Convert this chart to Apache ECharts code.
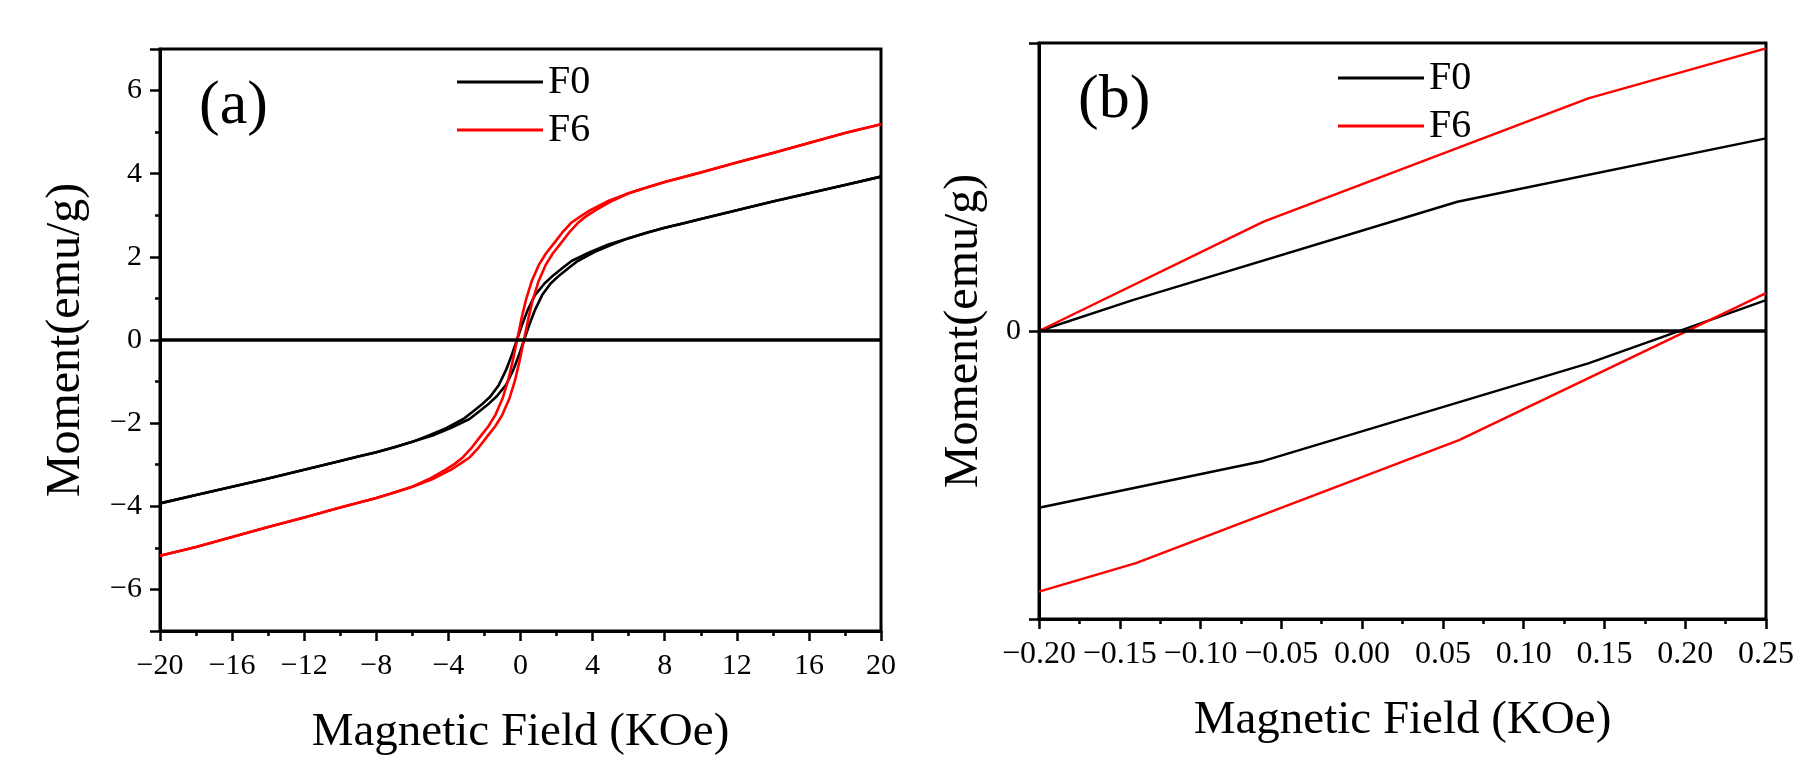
<!DOCTYPE html>
<html>
<head>
<meta charset="utf-8">
<script src="https://cdn.jsdelivr.net/npm/echarts@6/dist/echarts.min.js"></script>
<style>
  html, body { margin: 0; padding: 0; background: #fff; }
  #container { width: 1803px; height: 782px; }
</style>
</head>
<body>
<div id="container"></div>
<script>
// (a) full hysteresis loops, field in KOe, moment in emu/g
// descending branch (+20 -> -20) and ascending branch (-20 -> +20)
const f0DownField  = [20, 18, 16, 14, 12, 10, 9, 8, 7, 6, 4.88, 3.88, 2.83, 2.33, 1.83, 1.33, 0.8, 0.4, 0.1, -0.2,
                      -0.5, -0.8, -1.2, -1.67, -2.17, -2.67, -3.17, -4.12, -5.12, -6, -7, -8, -9, -10, -12, -14, -16, -18, -20];
const f0DownMoment = [3.93, 3.73, 3.53, 3.33, 3.12, 2.91, 2.80, 2.70, 2.58, 2.45, 2.30, 2.12, 1.90, 1.73, 1.56, 1.36, 1.08, 0.72, 0.38, 0,
                      -0.38, -0.72, -1.08, -1.36, -1.56, -1.73, -1.90, -2.12, -2.30, -2.45, -2.58, -2.70, -2.80, -2.91, -3.12, -3.33, -3.53, -3.73, -3.93];
const f0UpField    = [-20, -18, -16, -14, -12, -10, -9, -8, -7, -6, -4.88, -3.88, -2.83, -2.33, -1.83, -1.33, -0.8, -0.4, -0.1, 0.2,
                      0.5, 0.8, 1.2, 1.67, 2.17, 2.67, 3.17, 4.12, 5.12, 6, 7, 8, 9, 10, 12, 14, 16, 18, 20];
const f0UpMoment   = [-3.93, -3.73, -3.53, -3.33, -3.12, -2.91, -2.80, -2.70, -2.58, -2.45, -2.30, -2.12, -1.90, -1.73, -1.56, -1.36, -1.08, -0.72, -0.38, 0,
                      0.38, 0.72, 1.08, 1.36, 1.56, 1.73, 1.90, 2.12, 2.30, 2.45, 2.58, 2.70, 2.80, 2.91, 3.12, 3.33, 3.53, 3.73, 3.93];

const f6DownField  = [20, 18, 16, 14, 12, 10, 8, 7, 6, 4.9, 3.85, 3.35, 2.81, 2.31, 1.81, 1.41, 1.01, 0.61, 0.31, 0.06, -0.19,
                      -0.44, -0.69, -0.99, -1.39, -1.79, -2.19, -2.69, -3.19, -3.65, -4.15, -5.1, -6, -7, -8, -10, -12, -14, -16, -18, -20];
const f6DownMoment = [5.19, 4.98, 4.74, 4.50, 4.27, 4.03, 3.80, 3.67, 3.53, 3.35, 3.12, 2.98, 2.82, 2.58, 2.30, 2.08, 1.80, 1.40, 0.98, 0.52, 0,
                      -0.52, -0.98, -1.40, -1.80, -2.08, -2.30, -2.58, -2.82, -2.98, -3.12, -3.35, -3.53, -3.67, -3.80, -4.03, -4.27, -4.50, -4.74, -4.98, -5.19];
const f6UpField    = [-20, -18, -16, -14, -12, -10, -8, -7, -6, -4.9, -3.85, -3.35, -2.81, -2.31, -1.81, -1.41, -1.01, -0.61, -0.31, -0.06, 0.19,
                      0.44, 0.69, 0.99, 1.39, 1.79, 2.19, 2.69, 3.19, 3.65, 4.15, 5.1, 6, 7, 8, 10, 12, 14, 16, 18, 20];
const f6UpMoment   = [-5.19, -4.98, -4.74, -4.50, -4.27, -4.03, -3.80, -3.67, -3.53, -3.35, -3.12, -2.98, -2.82, -2.58, -2.30, -2.08, -1.80, -1.40, -0.98, -0.52, 0,
                      0.52, 0.98, 1.40, 1.80, 2.08, 2.30, 2.58, 2.82, 2.98, 3.12, 3.35, 3.53, 3.67, 3.80, 4.03, 4.27, 4.50, 4.74, 4.98, 5.19];

// (b) low-field detail
const bF0UpperField  = [0.25, 0.059, -0.142, -0.2];
const bF0UpperMoment = [0.535, 0.359, 0.086, 0];
const bF0LowerField  = [-0.2, -0.061, 0.14, 0.25];
const bF0LowerMoment = [-0.491, -0.361, -0.090, 0.086];
const bF6UpperField  = [0.25, 0.14, -0.061, -0.2];
const bF6UpperMoment = [0.785, 0.646, 0.304, 0];
const bF6LowerField  = [-0.2, -0.14, 0.06, 0.25];
const bF6LowerMoment = [-0.724, -0.645, -0.303, 0.105];

const seriesNames = ['F0', 'F6'];
const colors = { F0: '#000000', F6: '#ff0000' };

const FONT = "'Liberation Serif', 'Times New Roman', serif";
const minus = (s) => String(s).replace('-', '\u2212');

function pairs(xs, ys) {
    return xs.map((x, i) => [x, ys[i]]);
}

function lineSeries(name, idx, xs, ys) {
    return {
        name: name,
        type: 'line',
        xAxisIndex: idx,
        yAxisIndex: idx,
        data: pairs(xs, ys),
        symbol: 'none',
        clip: true,
        lineStyle: { color: colors[name], width: idx === 0 ? 2.6 : 2.4, join: 'round' },
        itemStyle: { color: colors[name] }
    };
}

const zeroLine = {
    silent: true,
    symbol: ['none', 'none'],
    label: { show: false },
    lineStyle: { color: '#000', width: 3.5, type: 'solid' },
    data: [{ yAxis: 0 }]
};

function baseX(idx, labelSize) {
    return {
        type: 'value',
        gridIndex: idx,
        name: 'Magnetic Field (KOe)',
        nameLocation: 'middle',
        nameGap: 78,
        nameTextStyle: { fontFamily: FONT, fontSize: 47, color: '#000' },
        axisLine: { onZero: false, lineStyle: { color: '#000', width: 3 } },
        axisTick: { inside: false, length: 10, lineStyle: { color: '#000', width: 2.5 } },
        minorTick: { show: true, splitNumber: 2, length: 5, lineStyle: { color: '#000', width: 2.5 } },
        splitLine: { show: false },
        axisLabel: { margin: 20, fontFamily: FONT, fontSize: labelSize, color: '#000' }
    };
}

function baseY(idx, gap) {
    return {
        type: 'value',
        gridIndex: idx,
        name: 'Moment(emu/g)',
        nameLocation: 'middle',
        nameGap: gap,
        nameRotate: 90,
        nameTextStyle: { fontFamily: FONT, fontSize: 48, color: '#000' },
        axisLine: { onZero: false, lineStyle: { color: '#000', width: 3 } },
        axisTick: { inside: false, length: 10, lineStyle: { color: '#000', width: 2.5 } },
        splitLine: { show: false },
        axisLabel: { margin: 18, fontFamily: FONT, fontSize: 30, color: '#000' }
    };
}

const xA = Object.assign(baseX(0, 30), { min: -20, max: 20, interval: 4 });
xA.axisLabel.formatter = (v) => minus(v);

const xB = Object.assign(baseX(1, 32), { min: -0.2, max: 0.25, interval: 0.05 });
xB.axisLabel.formatter = (v) => minus(Number(v).toFixed(2));

const yA = Object.assign(baseY(0, 70), {
    min: -7, max: 7, splitNumber: 7,
    minorTick: { show: true, splitNumber: 2, length: 5, lineStyle: { color: '#000', width: 2.5 } }
});
yA.axisLabel.formatter = (v) => (Math.round(v) % 2 === 0 ? minus(v) : '');

const yB = Object.assign(baseY(1, 51), { min: -0.8, max: 0.8, interval: 0.8 });
yB.axisLabel.formatter = (v) => (Math.abs(v) < 1e-9 ? '0' : '');

const series = [
    lineSeries('F0', 0, f0DownField, f0DownMoment),
    lineSeries('F0', 0, f0UpField, f0UpMoment),
    lineSeries('F6', 0, f6DownField, f6DownMoment),
    lineSeries('F6', 0, f6UpField, f6UpMoment),
    lineSeries('F0', 1, bF0UpperField, bF0UpperMoment),
    lineSeries('F0', 1, bF0LowerField, bF0LowerMoment),
    lineSeries('F6', 1, bF6UpperField, bF6UpperMoment),
    lineSeries('F6', 1, bF6LowerField, bF6LowerMoment)
];
series[0].markLine = zeroLine;
series[4].markLine = zeroLine;

function legendAt(left, top) {
    return {
        data: seriesNames.map((n) => ({ name: n, icon: 'rect', itemStyle: { color: colors[n] } })),
        orient: 'vertical',
        left: left,
        top: top,
        padding: 0,
        itemWidth: 86,
        itemHeight: 3,
        itemGap: 8,
        selectedMode: false,
        textStyle: { fontFamily: FONT, fontSize: 40, color: '#000', lineHeight: 40 }
    };
}

var dom = document.getElementById('container');
var myChart = echarts.init(dom, null, { renderer: 'canvas' });

var option = {
    animation: false,
    backgroundColor: '#ffffff',
    title: [
        { text: '(a)', left: 199, top: 76, padding: 0,
          textStyle: { fontFamily: FONT, fontSize: 62, fontWeight: 'normal', color: '#000' } },
        { text: '(b)', left: 1078, top: 70, padding: 0,
          textStyle: { fontFamily: FONT, fontSize: 62, fontWeight: 'normal', color: '#000' } }
    ],
    legend: [legendAt(457, 62), legendAt(1338, 58)],
    grid: [
        { left: 160, right: 922, top: 49, bottom: 151, show: true, borderColor: '#000', borderWidth: 3, backgroundColor: 'transparent' },
        { left: 1039, right: 37, top: 43, bottom: 163, show: true, borderColor: '#000', borderWidth: 3, backgroundColor: 'transparent' }
    ],
    xAxis: [xA, xB],
    yAxis: [yA, yB],
    series: series
};

myChart.setOption(option);
</script>
</body>
</html>
